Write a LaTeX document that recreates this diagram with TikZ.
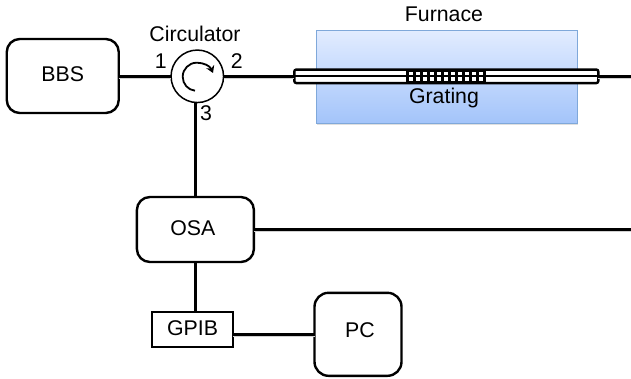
\documentclass[tikz,border=0pt]{standalone}
\usepackage{fontspec}
\setmainfont{Liberation Sans}
\usetikzlibrary{arrows.meta,shadows}
\definecolor{furntop}{HTML}{E2ECFF}
\definecolor{furnbot}{HTML}{A3C4FA}
\definecolor{furnline}{HTML}{7FA8DA}
\tikzset{
  x=1pt,y=-1pt,
  every node/.style={font=\fontsize{21.3}{23}\selectfont,inner sep=0pt,outer sep=0pt},
  wire/.style={draw=black,line width=2.5pt},
  hwire/.style={wire,preaction={draw=black!18,line width=2.5pt,transform canvas={yshift=-1.6pt}}},
  block/.style={draw=black,line width=2.4pt,rounded corners=13pt,fill=white},
  squarebox/.style={draw=black,line width=2.4pt,fill=white},
}
\begin{document}
\begin{tikzpicture}
\useasboundingbox (0,0) rectangle (631,378);
\fill[white] (0,0) rectangle (631,378);
% furnace
\node[draw=furnline,line width=0.8pt,minimum width=261pt,minimum height=93pt,top color=furntop,bottom color=furnbot,drop shadow={shadow xshift=0.8pt,shadow yshift=-1.2pt,opacity=0.25}] (furnace) at (446.5,77) {};
\node (furnlabel) at (444,14) {Furnace};
% blocks
\node[block,minimum width=112pt,minimum height=74pt,text height=15pt,text depth=4pt] (bbs) at (62.75,76) {BBS};
\node[draw=black,line width=1.5pt,circle,minimum size=52.5pt,fill=white] (circ) at (197.3,76.3) {};
\node[block,minimum width=117pt,minimum height=65pt,text height=15pt,text depth=3pt] (osa) at (195.4,229.5) {OSA\hspace*{5pt}};
\node[squarebox,minimum width=81pt,minimum height=35pt,text height=15pt,text depth=3.5pt] (gpib) at (192.5,329.75) {GPIB};
\node[block,minimum width=87pt,minimum height=83pt,rounded corners=14pt,text height=15pt,text depth=8pt] (pc) at (358,334.3) {\hspace*{4pt}PC};
% fibre tube
\node[draw=black,line width=2.4pt,rounded corners=2pt,fill=white,minimum width=304pt,minimum height=13.5pt] (tube) at (446.3,76.3) {};
\coordinate (exit) at (631,76.3);
\coordinate (osaexit) at (631,229.5);
\coordinate (downA) at (195.7,0);
\coordinate (downB) at (195.5,0);
\coordinate (pcline) at (0,334.4);
% connectors
\draw[hwire] (bbs.east |- circ.west) -- (circ.west);
\draw[hwire] (circ.east) -- (tube.west);
\draw[draw=black,line width=2pt] (tube.west) -- (tube.east);
\draw[hwire] (tube.east) -- (exit);
\draw[wire] (circ.south -| downA) -- (osa.north -| downA);
\draw[hwire] (osa.east |- osaexit) -- (osaexit);
\draw[wire] (osa.south -| downB) -- (gpib.north -| downB);
\draw[hwire] (gpib.east |- pcline) -- (pc.west |- pcline);
% grating
\foreach \i in {0,...,11}{
  \fill[black] ({406+\i*7},69) rectangle ({409+\i*7},83.4);
}
\draw[black,line width=3pt] (406,70) -- (484,70) (406,82.5) -- (484,82.5);
\draw[black,line width=2pt] (406,76.3) -- (484,76.3);
\node (gratinglabel) at (444,98) {Grating};
% circulator
\draw[black,line width=1.8pt,-{Stealth[length=7pt,width=8.5pt]}] (195,90.7) .. controls (188,90) and (182.7,84) .. (182.7,76.7) .. controls (182.7,69) and (189,62.7) .. (196.7,62.7) .. controls (204,62.7) and (210,66) .. (213,73);
\node (circlabel) at (195,33.5) {Circulator};
\node (p1) at (160.7,61) {1};
\node (p2) at (236.7,61) {2};
\node (p3) at (206,113.5) {3};
\end{tikzpicture}
\end{document}
